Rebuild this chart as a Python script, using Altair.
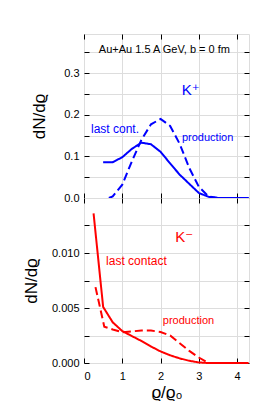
import altair as alt
import pandas as pd

# ---- data ----
kp_lc_x = [0.5, 0.75, 1.0, 1.25, 1.5, 1.75, 2.0, 2.25, 2.5, 2.75, 3.0, 3.25, 3.5, 3.75, 4.0, 4.3]
kp_lc_y = [0.086, 0.086, 0.098, 0.118, 0.133, 0.129, 0.111, 0.083, 0.056, 0.034, 0.012, 0.003, 0.0, 0.0, 0.0, 0.0]
kp_pr_x = [0.65, 0.75, 1.0, 1.25, 1.5, 1.75, 2.0, 2.25, 2.5, 2.75, 3.0, 3.25, 3.5, 3.75, 4.0, 4.3]
kp_pr_y = [0.0, 0.004, 0.032, 0.088, 0.14, 0.177, 0.19, 0.173, 0.13, 0.072, 0.027, 0.004, 0.0, 0.0, 0.0, 0.0]

km_lc_x = [0.25, 0.5, 0.75, 1.0, 1.25, 1.5, 1.75, 2.0, 2.25, 2.5, 2.75, 3.0, 3.25, 3.5, 3.75, 4.0, 4.3]
km_lc_y = [0.0136, 0.0051, 0.0037, 0.0029, 0.00245, 0.002, 0.0015, 0.00105, 0.0007, 0.00042, 0.0002, 0.00005, 0.0, 0.0, 0.0, 0.0, 0.0]
km_pr_x = [0.3, 0.53, 0.75, 1.0, 1.25, 1.5, 1.75, 2.0, 2.25, 2.5, 2.75, 3.0, 3.25]
km_pr_y = [0.0069, 0.0033, 0.00305, 0.0028, 0.00287, 0.00296, 0.00295, 0.00282, 0.0025, 0.0018, 0.0011, 0.0005, 0.0]

top_text = ["Au+Au 1.5 A GeV, b = 0 fm", "K⁺", "last cont.", "production"]
top_text_x = [2.10, 2.79, 0.81, 3.23]
top_text_y = [0.356, 0.26, 0.166, 0.145]
top_text_size = [11, 15, 12, 11]
top_text_color = ["black", "#0000ff", "#0000ff", "#0000ff"]

bot_text = ["K⁻", "last contact", "production"]
bot_text_x = [2.62, 1.37, 2.73]
bot_text_y = [0.0115, 0.00929, 0.00384]
bot_text_size = [15, 12, 11]
bot_text_color = ["#ff0000", "#ff0000", "#ff0000"]

x_ticks = [0, 1, 2, 3, 4]
top_y_ticks = [0, 0.05, 0.1, 0.15, 0.2, 0.25, 0.3, 0.35]
bot_y_ticks = [0, 0.0025, 0.005, 0.0075, 0.01, 0.0125]

FONT = "Liberation Sans, DejaVu Sans"
W = 165


def lines_df(x1, y1, x2, y2):
    a = pd.DataFrame({"x": x1, "y": y1, "s": "last"})
    b = pd.DataFrame({"x": x2, "y": y2, "s": "prod"})
    return pd.concat([a, b], ignore_index=True)


def panel(df, tdf, color, ydom, yticks, lab_expr, height, show_x_labels, title_pad):
    xs = alt.Scale(domain=[0, 4.31], nice=False, zero=False)
    ys = alt.Scale(domain=ydom, nice=False, zero=False)
    tick_common = dict(tickSize=5, offset=-5, domain=False, tickColor="black")
    x_bottom = alt.Axis(values=x_ticks, labels=show_x_labels, format="d",
                        labelPadding=7, labelFontSize=11, labelFont=FONT, labelColor="black",
                        title="ϱ/ϱ₀" if show_x_labels else None, titleFontSize=17,
                        titleFont=FONT, titleFontWeight="normal", titlePadding=3,
                        orient="bottom", minExtent=0, **tick_common)
    y_left = alt.Axis(values=yticks, labelExpr=lab_expr, labelPadding=5, labelFontSize=11,
                      labelFont=FONT, labelColor="black", title="dN/dϱ", titleFontSize=17,
                      titleFont=FONT, titleFontWeight="normal", titlePadding=title_pad,
                      orient="left", minExtent=32, maxExtent=32, **tick_common)
    x_top = alt.Axis(values=x_ticks, labels=False, title=None, orient="top", minExtent=0,
                     **tick_common)
    y_right = alt.Axis(values=yticks, labels=False, title=None, orient="right", minExtent=0,
                       **tick_common)

    lines = alt.Chart(df).mark_line(strokeWidth=2, color=color).encode(
        x=alt.X("x:Q", scale=xs, axis=x_bottom),
        y=alt.Y("y:Q", scale=ys, axis=y_left),
        strokeDash=alt.StrokeDash("s:N", scale=alt.Scale(domain=["last", "prod"],
                                                           range=[[1, 0], [8, 4]]), legend=None),
    )
    frame = alt.Chart(df).mark_line(opacity=0).encode(
        x=alt.X("x:Q", scale=xs, axis=x_top),
        y=alt.Y("y:Q", scale=ys, axis=y_right),
        detail="s:N",
    )
    texts = alt.Chart(tdf).mark_text(font=FONT, baseline="middle", align="center").encode(
        x=alt.X("x:Q", scale=xs, axis=None),
        y=alt.Y("y:Q", scale=ys, axis=None),
        text="t:N",
        size=alt.Size("size:Q", scale=None, legend=None),
        color=alt.Color("c:N", scale=None, legend=None),
    )
    return alt.layer(lines, frame, texts).resolve_axis(x="independent", y="independent").properties(
        width=W, height=height)


top_df = lines_df(kp_lc_x, kp_lc_y, kp_pr_x, kp_pr_y)
bot_df = lines_df(km_lc_x, km_lc_y, km_pr_x, km_pr_y)
top_tdf = pd.DataFrame({"t": top_text, "x": top_text_x, "y": top_text_y,
                        "size": top_text_size, "c": top_text_color})
bot_tdf = pd.DataFrame({"t": bot_text, "x": bot_text_x, "y": bot_text_y,
                        "size": bot_text_size, "c": bot_text_color})

top = panel(top_df, top_tdf, "#0000ff", [0, 0.394], top_y_ticks,
            "abs(datum.value*10 - round(datum.value*10)) < 0.01 ? format(datum.value, '.1f') : ''",
            164, False, 9)
bot = panel(bot_df, bot_tdf, "#ff0000", [0, 0.015], bot_y_ticks,
            "abs(datum.value*200 - round(datum.value*200)) < 0.01 ? format(datum.value, '.3f') : ''",
            165, True, 17)

chart = alt.vconcat(top, bot, spacing=0, bounds="flush").properties(
    padding={"left": 13, "top": 25, "right": 5, "bottom": 5}
).configure_view(stroke="black", strokeWidth=1).configure(background="white")

chart.save("out.html", embed_options={"renderer": "svg", "actions": False})
